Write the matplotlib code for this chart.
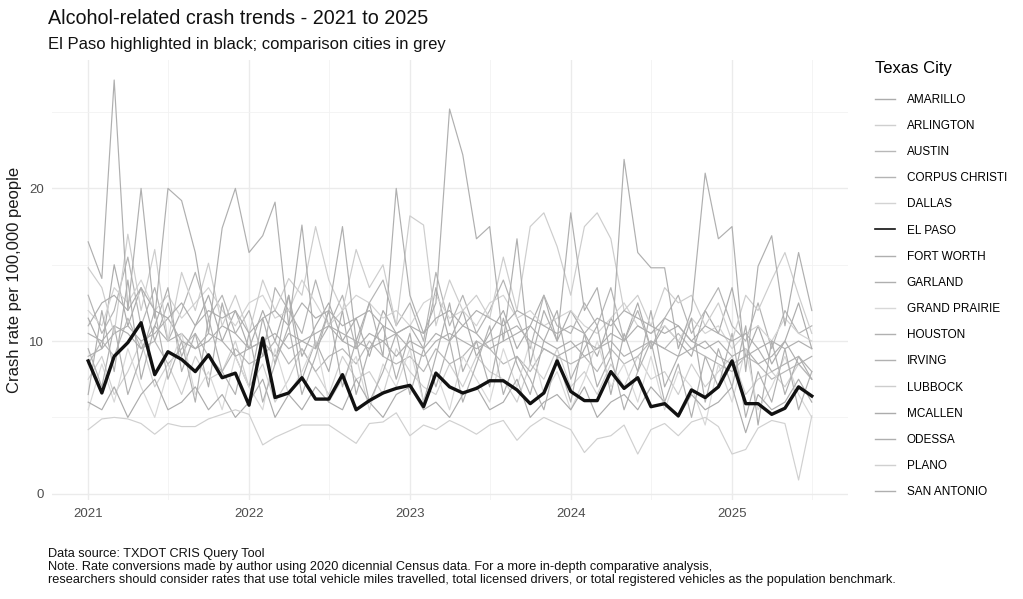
import matplotlib
matplotlib.use("Agg")
import matplotlib.pyplot as plt
import matplotlib.dates as mdates
import pandas as pd
import numpy as np

plt.rcParams['font.family'] = ['Liberation Sans', 'DejaVu Sans']

# Monthly crash rates per 100,000 people, Jan 2021 - Jul 2025
months = pd.date_range("2021-01-01", periods=55, freq="MS")

el_paso = [8.7, 6.6, 9.0, 9.9, 11.2, 7.8, 9.3, 8.8, 8.0, 9.1, 7.6, 7.9,
           5.8, 10.2, 6.3, 6.6, 7.6, 6.2, 6.2, 7.8, 5.5, 6.1, 6.6, 6.9,
           7.1, 5.7, 7.9, 7.0, 6.6, 6.9, 7.4, 7.4, 6.8, 5.9, 6.6, 8.7,
           6.7, 6.1, 6.1, 8.0, 6.9, 7.6, 5.7, 5.9, 5.1, 6.8, 6.3, 7.0,
           8.7, 5.9, 5.9, 5.2, 5.6, 7.0, 6.4]

amarillo = [11.5, 9.5, 15.0, 11.0, 13.5, 10.0, 12.5, 9.0, 11.0, 13.0, 10.0, 12.0,
            9.5, 12.0, 10.0, 13.0, 9.0, 11.0, 12.5, 10.0, 11.5, 9.0, 12.0, 10.5,
            11.0, 9.5, 13.5, 10.0, 12.0, 9.0, 10.5, 12.0, 9.5, 11.0, 13.0, 10.0,
            12.0, 10.5, 9.0, 11.5, 10.0, 12.5, 9.5, 11.0, 10.0, 9.0, 12.0, 10.5,
            13.5, 9.0, 11.0, 8.5, 10.0, 12.5, 9.5]

arlington = [7.5, 9.0, 6.5, 8.0, 10.0, 7.0, 8.5, 6.5, 9.0, 7.5, 8.0, 10.0,
             7.0, 8.5, 6.0, 7.5, 9.5, 8.0, 6.5, 9.0, 7.5, 8.0, 6.5, 9.5,
             8.0, 7.0, 6.5, 8.5, 7.0, 9.0, 8.0, 7.5, 6.0, 8.5, 7.5, 9.5,
             7.0, 8.0, 6.5, 8.5, 7.0, 9.0, 7.5, 8.0, 6.5, 8.5, 7.0, 8.0,
             9.0, 6.5, 7.5, 8.0, 7.0, 8.5, 7.5]

austin = [8.5, 10.0, 9.0, 11.5, 9.5, 10.0, 8.5, 9.5, 10.5, 9.0, 8.0, 9.5,
          8.5, 9.0, 10.0, 8.5, 9.5, 8.0, 9.0, 9.5, 8.5, 10.0, 9.0, 8.5,
          9.0, 8.0, 9.5, 8.5, 9.0, 10.0, 9.5, 8.5, 9.0, 8.0, 9.5, 9.0,
          8.5, 9.0, 8.0, 9.5, 8.5, 9.0, 10.0, 9.5, 10.5, 9.5, 9.0, 8.5,
          8.0, 9.0, 8.5, 7.5, 8.0, 8.5, 7.5]

corpus_christi = [13.0, 10.5, 12.0, 15.5, 11.0, 13.5, 10.0, 12.0, 14.5, 11.5, 13.0, 10.5,
                  12.0, 9.0, 13.5, 12.0, 10.5, 14.0, 11.0, 13.0, 9.5, 12.5, 14.0, 11.0,
                  12.5, 10.0, 14.5, 11.0, 13.0, 10.5, 12.0, 14.0, 11.5, 9.5, 13.0, 11.0,
                  10.5, 12.5, 11.0, 13.5, 10.0, 12.0, 9.5, 11.5, 13.0, 10.5, 12.0, 13.5,
                  11.0, 10.0, 12.5, 9.5, 12.0, 10.5, 11.0]

dallas = [12.0, 11.0, 13.5, 12.5, 14.0, 12.0, 13.0, 11.5, 12.5, 13.5, 12.0, 11.0,
          12.5, 13.0, 11.5, 12.0, 14.0, 12.5, 11.0, 12.0, 13.0, 12.5, 11.5, 12.0,
          11.0, 12.5, 13.0, 11.5, 12.0, 11.0, 12.5, 13.0, 11.5, 12.0, 11.0, 11.5,
          12.0, 11.0, 10.5, 11.5, 12.5, 11.0, 10.5, 11.0, 10.0, 11.5, 10.5, 11.0,
          9.5, 10.5, 11.0, 10.0, 11.5, 10.5, 10.0]

fort_worth = [10.5, 10.0, 11.0, 10.5, 9.5, 11.0, 10.0, 10.5, 9.5, 10.0, 11.0, 10.5,
              9.5, 10.0, 9.0, 10.5, 10.0, 9.5, 11.0, 10.0, 9.5, 10.5, 10.0, 9.0,
              10.0, 9.5, 10.5, 10.0, 11.0, 10.5, 9.5, 10.0, 10.5, 11.0, 10.0, 9.5,
              10.0, 9.0, 9.5, 10.5, 10.0, 11.0, 10.5, 11.5, 11.0, 10.0, 9.5, 10.0,
              9.0, 9.5, 8.5, 9.0, 10.0, 8.5, 9.0]

garland = [6.5, 12.0, 8.0, 14.0, 7.5, 11.0, 13.5, 8.0, 10.5, 7.0, 12.5, 9.0,
           7.0, 11.5, 8.5, 13.0, 7.5, 10.0, 8.0, 12.0, 6.5, 9.5, 11.0, 7.5,
           10.5, 6.0, 9.0, 12.5, 8.0, 10.0, 7.0, 11.5, 8.5, 6.5, 10.0, 12.0,
           7.5, 9.5, 11.0, 6.5, 10.5, 8.0, 12.0, 7.0, 9.0, 11.5, 6.0, 9.5,
           7.0, 11.0, 4.5, 10.0, 6.5, 9.0, 7.5]

grand_prairie = [5.5, 8.5, 6.0, 9.5, 7.0, 5.0, 8.0, 10.5, 6.5, 8.0, 5.5, 9.0,
                 7.0, 5.5, 9.5, 6.5, 8.0, 10.0, 6.0, 7.5, 9.0, 5.5, 8.5, 7.0,
                 9.5, 6.0, 8.0, 5.5, 9.0, 7.5, 6.0, 9.5, 7.0, 10.0, 6.5, 8.0,
                 5.5, 7.5, 10.0, 7.0, 8.5, 6.0, 9.0, 5.5, 8.0, 7.0, 4.5, 8.5,
                 6.0, 9.5, 5.5, 7.0, 9.0, 6.5, 5.0]

houston = [9.0, 9.5, 10.5, 11.0, 10.0, 10.5, 11.5, 10.0, 9.5, 10.5, 10.0, 9.0,
           9.5, 10.0, 10.5, 9.5, 10.0, 10.5, 11.0, 10.5, 10.0, 9.5, 10.0, 10.5,
           9.5, 9.0, 10.0, 10.5, 10.0, 9.5, 10.0, 10.5, 11.0, 10.0, 9.5, 9.0,
           9.5, 10.0, 9.5, 10.0, 9.0, 9.5, 10.0, 9.5, 9.0, 9.5, 10.0, 9.0,
           8.5, 9.0, 9.5, 8.0, 8.5, 9.0, 8.0]

irving = [9.5, 7.0, 11.0, 6.5, 9.0, 12.0, 7.5, 10.0, 6.0, 11.5, 8.0, 6.5,
          10.5, 6.0, 8.5, 11.0, 6.5, 9.0, 12.0, 7.0, 10.0, 6.0, 8.0, 10.5,
          6.5, 9.5, 7.0, 10.0, 6.0, 8.5, 11.0, 6.5, 9.0, 7.5, 5.5, 9.0,
          6.0, 10.5, 7.0, 9.0, 5.5, 8.0, 10.0, 6.0, 8.5, 5.0, 9.0, 7.0,
          10.5, 5.0, 8.0, 6.0, 9.5, 5.5, 8.0]

lubbock = [14.8, 13.5, 10.5, 17.0, 12.0, 16.0, 10.0, 14.5, 12.0, 15.1, 11.0, 13.0,
           10.5, 14.0, 12.0, 14.1, 13.0, 17.5, 14.0, 12.0, 16.0, 13.5, 15.0, 11.0,
           18.2, 17.6, 11.0, 14.0, 12.0, 13.0, 11.5, 15.5, 12.0, 17.5, 18.4, 16.2,
           13.0, 17.5, 18.4, 16.7, 12.0, 13.0, 11.0, 13.5, 12.5, 13.0, 11.0, 12.5,
           10.0, 13.0, 12.0, 14.0, 15.8, 13.0, 10.5]

mcallen = [6.0, 5.5, 7.0, 5.0, 6.5, 7.5, 5.5, 6.0, 7.0, 5.5, 6.5, 5.0,
           6.0, 7.5, 5.0, 6.5, 5.5, 7.0, 6.0, 5.5, 7.5, 6.0, 5.0, 6.5,
           7.0, 5.5, 6.0, 5.0, 6.5, 7.0, 5.5, 6.0, 7.5, 5.0, 6.0, 6.5,
           5.5, 7.0, 5.0, 6.0, 6.5, 5.5, 7.0, 6.0, 5.0, 6.5, 5.5, 6.0,
           7.0, 4.0, 6.5, 5.5, 6.0, 7.5, 6.0]

odessa = [16.5, 14.1, 27.1, 12.0, 20.0, 11.5, 20.0, 19.2, 15.8, 10.5, 17.4, 20.0,
          15.8, 16.9, 19.1, 11.0, 17.6, 9.5, 12.0, 17.5, 10.0, 12.5, 9.0, 20.0,
          13.0, 10.5, 12.5, 25.2, 22.2, 16.7, 17.5, 10.0, 16.7, 8.5, 12.0, 10.0,
          18.4, 12.0, 13.5, 9.0, 21.9, 15.8, 14.8, 14.8, 9.5, 12.0, 21.0, 16.7,
          17.5, 8.0, 14.9, 16.9, 11.0, 15.8, 12.0]

plano = [4.2, 4.9, 5.0, 4.9, 4.6, 3.9, 4.6, 4.4, 4.4, 4.9, 5.2, 5.5,
         5.2, 3.2, 3.7, 4.1, 4.5, 4.5, 4.5, 3.9, 3.3, 4.6, 4.7, 5.3,
         3.8, 4.5, 4.2, 4.8, 4.4, 3.9, 4.5, 4.8, 3.5, 4.4, 5.0, 4.6,
         4.2, 2.7, 3.6, 3.8, 4.5, 2.6, 4.2, 4.6, 3.8, 4.7, 5.0, 4.4,
         2.6, 2.9, 4.3, 4.8, 4.6, 0.9, 5.1]

san_antonio = [11.0, 12.5, 13.0, 12.0, 13.5, 12.0, 11.5, 12.5, 11.0, 12.0, 11.5, 12.0,
               10.5, 11.5, 12.0, 11.0, 12.5, 11.5, 12.0, 11.0, 11.5, 12.0, 11.0, 10.5,
               11.0, 10.5, 11.5, 12.0, 11.0, 12.0, 11.5, 11.0, 12.0, 11.5, 11.0, 10.5,
               11.0, 10.5, 11.5, 11.0, 12.0, 11.5, 11.0, 10.5, 11.0, 10.0, 11.0, 10.5,
               10.0, 10.5, 9.5, 10.0, 9.5, 10.0, 9.5]

cities = ["AMARILLO", "ARLINGTON", "AUSTIN", "CORPUS CHRISTI", "DALLAS", "EL PASO",
          "FORT WORTH", "GARLAND", "GRAND PRAIRIE", "HOUSTON", "IRVING", "LUBBOCK",
          "MCALLEN", "ODESSA", "PLANO", "SAN ANTONIO"]
rates = [amarillo, arlington, austin, corpus_christi, dallas, el_paso,
         fort_worth, garland, grand_prairie, houston, irving, lubbock,
         mcallen, odessa, plano, san_antonio]
greys = ["#acacac", "#cfcfcf", "#b8b8b8", "#b4b4b4", "#d3d3d3", "#111111",
         "#afafaf", "#afafaf", "#d8d8d8", "#b1b1b1", "#b1b1b1", "#cdcdcd",
         "#acacac", "#afafaf", "#d0d0d0", "#afafaf"]

fig = plt.figure(figsize=(10.23, 5.99), dpi=100)
ax = fig.add_axes([52 / 1023, 99 / 599, 796 / 1023, 440 / 599])

# grey comparison cities first, El Paso on top
for name, vals, col in zip(cities, rates, greys):
    if name != "EL PASO":
        ax.plot(months, vals, color=col, linewidth=0.85, label=name, zorder=2)
ep_line, = ax.plot(months, el_paso, color="#111111", linewidth=2.4, label="EL PASO", zorder=3)

# ggplot-like 5% expansion
allv = np.concatenate([np.array(v) for v in rates])
lo, hi = allv.min(), allv.max()
pad = (hi - lo) * 0.05
ax.set_ylim(lo - pad, hi + pad)
x0, x1 = mdates.date2num(months[0]), mdates.date2num(months[-1])
xp = (x1 - x0) * 0.05
ax.set_xlim(x0 - xp, x1 + xp)

ax.xaxis.set_major_locator(mdates.YearLocator())
ax.xaxis.set_major_formatter(mdates.DateFormatter("%Y"))
ax.xaxis.set_minor_locator(mdates.MonthLocator(bymonth=7))
ax.set_yticks([0, 10, 20])
ax.set_yticks([5, 15, 25], minor=True)
ax.grid(which="major", color="#ebebeb", linewidth=1.0, zorder=0)
ax.grid(which="minor", color="#f2f2f2", linewidth=0.6, zorder=0)
ax.set_axisbelow(True)
for s in ax.spines.values():
    s.set_visible(False)
ax.tick_params(which="both", length=0, labelsize=9.5, labelcolor="#4d4d4d", pad=6)
ax.set_ylabel("Crash rate per 100,000 people", fontsize=12, color="#1a1a1a", labelpad=5)

# legend in ggplot order
handles, labels = ax.get_legend_handles_labels()
order = [labels.index(c) for c in cities]
leg = fig.legend([handles[i] for i in order], [labels[i] for i in order],
                 title="Texas City", loc="upper left", bbox_to_anchor=(870 / 1023, 1 - 56 / 599),
                 frameon=False, fontsize=8.5, title_fontsize=12, handlelength=1.7,
                 labelspacing=1.2, handletextpad=1.0, borderaxespad=0)
leg._legend_box.align = "left"
leg._legend_box.sep = 13
for h in leg.legend_handles:
    h.set_linewidth(1.0)
leg.legend_handles[cities.index("EL PASO")].set_linewidth(1.2)

fig.text(48 / 1023, 1 - 18 / 599, "Alcohol-related crash trends - 2021 to 2025",
         fontsize=14.2, color="#111111", va="center", ha="left")
fig.text(48 / 1023, 1 - 45 / 599, "El Paso highlighted in black; comparison cities in grey",
         fontsize=12, color="#111111", va="center", ha="left")

caption = ("Data source: TXDOT CRIS Query Tool\n"
           "Note. Rate conversions made by author using 2020 dicennial Census data. "
           "For a more in-depth comparative analysis,\n"
           "researchers should consider rates that use total vehicle miles travelled, "
           "total licensed drivers, or total registered vehicles as the population benchmark.")
fig.text(48 / 1023, 1 - 548 / 599, caption, fontsize=9.2, color="#111111", va="top", ha="left",
         linespacing=1.1)

fig.savefig("out.png", dpi=100)
